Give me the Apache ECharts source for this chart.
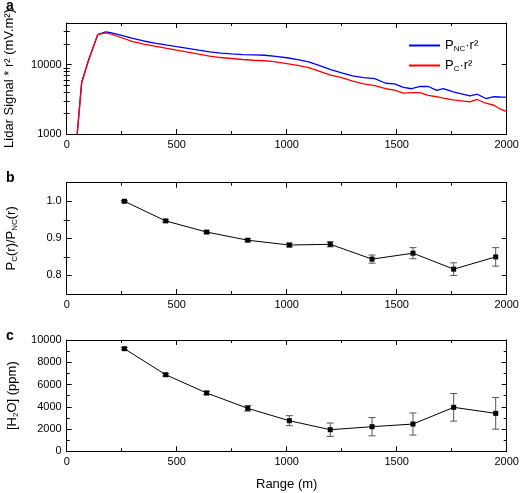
<!DOCTYPE html>
<html><head><meta charset="utf-8">
<script src="https://cdn.jsdelivr.net/npm/echarts@6/dist/echarts.min.js"></script>
<style>html,body{margin:0;padding:0;background:#fff}#c{width:520px;height:493px}</style>
</head><body><div id="c"></div>
<script>
// ---------- data ----------
const rangeA = [45, 68, 98, 141, 177, 200, 250, 300, 350, 400, 450, 500, 550, 600, 650, 700, 750, 800, 850, 900, 950, 1000, 1050, 1100, 1150, 1200, 1250, 1300, 1350, 1400, 1450, 1490, 1530, 1568, 1606, 1644, 1682, 1712, 1757, 1795, 1833, 1866, 1905, 1942, 1970, 2000];
const signalNC = [800, 5600, 11300, 27200, 29800, 29000, 26500, 24000, 22000, 20500, 19300, 18200, 17200, 16200, 15300, 14700, 14300, 14000, 13900, 13700, 13200, 12600, 11800, 11000, 9700, 8500, 7600, 6900, 6500, 6300, 5400, 5300, 4700, 4500, 4850, 4850, 4250, 4500, 4050, 3800, 3550, 3750, 3250, 3450, 3420, 3400];
const signalC = [800, 5430, 11200, 27200, 28800, 27800, 24500, 21500, 19800, 18500, 17300, 16200, 15200, 14200, 13300, 12700, 12300, 11900, 11600, 11400, 11000, 10400, 9800, 9100, 8000, 7100, 6500, 5800, 5300, 5000, 4500, 4300, 3900, 3950, 3950, 3600, 3450, 3300, 3100, 3000, 2900, 3150, 2780, 2600, 2300, 2100];

const rangeB = [262, 450, 636, 823, 1012, 1198, 1388, 1574, 1759, 1950];
const ratio = [1.000, 0.947, 0.917, 0.895, 0.882, 0.884, 0.844, 0.860, 0.817, 0.850];
const ratioErr = [0.002, 0.003, 0.003, 0.004, 0.005, 0.007, 0.011, 0.015, 0.017, 0.025];
const h2o = [9220, 6880, 5240, 3860, 2750, 1940, 2210, 2450, 3950, 3410];
const h2oErr = [100, 120, 150, 250, 450, 600, 820, 990, 1240, 1420];

const logMajor = [1000, 10000];
const logMinor = [2000, 3000, 4000, 5000, 6000, 7000, 8000, 9000, 20000, 30000];
const ratioMajor = [0.8, 0.9, 1.0];
const ratioMinor = [0.85, 0.95];

// ---------- helpers ----------
const FONT = 'Liberation Sans, Arial, sans-serif';
const pairs = (xs, ys) => xs.map((x, i) => [x, ys[i]]);
const errs = (xs, ys, es) => xs.map((x, i) => [x, ys[i] - es[i], ys[i] + es[i]]);
const plain = v => String(v);

function xAx(grid, pos, showLabel, extra) {
  return Object.assign({
    type: 'value', gridIndex: grid, position: pos, min: 0, max: 2000, interval: 500,
    axisLine: { show: true, onZero: false, lineStyle: { color: '#000', width: 1 } },
    axisTick: { show: true, inside: true, length: 5, lineStyle: { color: '#000', width: 1 } },
    minorTick: { show: true, splitNumber: 2, length: 3, lineStyle: { color: '#000', width: 1 } },
    splitLine: { show: false }, minorSplitLine: { show: false },
    axisLabel: { show: showLabel, color: '#000', fontSize: 11, margin: 5, fontFamily: FONT, formatter: plain,
      hideOverlap: false }
  }, extra || {});
}
function yAx(o) {
  return Object.assign({
    axisLine: { show: true, onZero: false, lineStyle: { color: '#000', width: 1 } },
    splitLine: { show: false },
    axisLabel: { show: false, color: '#000', fontSize: 11, margin: 5, fontFamily: FONT },
  }, o);
}
const tick = (len, vals) => ({ show: true, inside: true, length: len, lineStyle: { color: '#000', width: 1 }, customValues: vals });
const nameStyle = {
  color: '#000', fontSize: 13, fontFamily: FONT,
  rich: {
    n: { fontSize: 13, fontFamily: FONT, color: '#000' },
    s: { fontSize: 8, fontFamily: FONT, color: '#000', padding: [0, 0, -7, 0] }
  }
};

function errRender(params, api) {
  const x = api.value(0), lo = api.value(1), hi = api.value(2);
  const a = api.coord([x, lo]), b = api.coord([x, hi]);
  const w = 3.5;
  const st = { stroke: '#555', lineWidth: 1, fill: null };
  return { type: 'group', children: [
    { type: 'line', shape: { x1: a[0], y1: a[1], x2: b[0], y2: b[1] }, style: st },
    { type: 'line', shape: { x1: a[0] - w, y1: a[1], x2: a[0] + w, y2: a[1] }, style: st },
    { type: 'line', shape: { x1: b[0] - w, y1: b[1], x2: b[0] + w, y2: b[1] }, style: st }
  ]};
}

const chart = echarts.init(document.getElementById('c'), null, { renderer: 'canvas' });
const legendNames = { 'PNC': '{n|P}{s|NC}{n|·r²}', 'PC': '{n|P}{s|C}{n|·r²}' };
const gridBase = { left: 66.7, right: 13.3, containLabel: false, outerBoundsMode: 'none' };

chart.setOption({
  animation: false,
  backgroundColor: '#fff',
  textStyle: { fontFamily: FONT },
  grid: [
    Object.assign({ top: 23, height: 111 }, gridBase),
    Object.assign({ top: 182.7, height: 111.3 }, gridBase),
    Object.assign({ top: 340, height: 111.3 }, gridBase)
  ],
  graphic: [
    { type: 'text', left: 6, top: -1, style: { text: 'a', font: 'bold 14px ' + FONT, fill: '#000' } },
    { type: 'text', left: 6, top: 171, style: { text: 'b', font: 'bold 14px ' + FONT, fill: '#000' } },
    { type: 'text', left: 6, top: 329, style: { text: 'c', font: 'bold 14px ' + FONT, fill: '#000' } }
  ],
  legend: {
    orient: 'vertical', left: 404, top: 34, itemWidth: 31, itemHeight: 2, itemGap: 6, icon: 'rect',
    data: ['PNC', 'PC'],
    formatter: n => legendNames[n],
    textStyle: { color: '#000', fontSize: 13, fontFamily: FONT, rich: nameStyle.rich }
  },
  xAxis: [
    xAx(0, 'bottom', true), xAx(0, 'top', false),
    xAx(1, 'bottom', true), xAx(1, 'top', false),
    xAx(2, 'bottom', true, { name: 'Range (m)', nameLocation: 'middle', nameGap: 27,
      nameTextStyle: { color: '#000', fontSize: 13, fontFamily: FONT } }),
    xAx(2, 'top', false)
  ],
  yAxis: [
    // panel a (log)
    yAx({ type: 'log', logBase: 10, gridIndex: 0, position: 'left', min: 1000, max: 40000,
      axisTick: tick(5, logMajor),
      axisLabel: { show: true, color: '#000', fontSize: 11, margin: 5, fontFamily: FONT, customValues: logMajor, formatter: plain },
      name: 'Lidar Signal * r² (mV.m²)', nameLocation: 'middle', nameGap: 51, nameRotate: 90,
      nameTextStyle: nameStyle }),
    yAx({ type: 'log', logBase: 10, gridIndex: 0, position: 'left', min: 1000, max: 40000,
      axisLine: { show: false }, axisTick: tick(3, logMinor) }),
    yAx({ type: 'log', logBase: 10, gridIndex: 0, position: 'right', min: 1000, max: 40000,
      axisTick: tick(5, logMajor) }),
    yAx({ type: 'log', logBase: 10, gridIndex: 0, position: 'right', min: 1000, max: 40000,
      axisLine: { show: false }, axisTick: tick(3, logMinor) }),
    // panel b
    yAx({ type: 'value', gridIndex: 1, position: 'left', min: 0.75, max: 1.05,
      axisTick: tick(5, ratioMajor),
      axisLabel: { show: true, color: '#000', fontSize: 11, margin: 5, fontFamily: FONT, customValues: ratioMajor,
        formatter: v => v.toFixed(1) },
      name: '{n|P}{s|C}{n|(r)/P}{s|NC}{n|(r)}', nameLocation: 'middle', nameGap: 49, nameRotate: 90,
      nameTextStyle: nameStyle }),
    yAx({ type: 'value', gridIndex: 1, position: 'left', min: 0.75, max: 1.05,
      axisLine: { show: false }, axisTick: tick(3, ratioMinor) }),
    yAx({ type: 'value', gridIndex: 1, position: 'right', min: 0.75, max: 1.05,
      axisTick: tick(5, ratioMajor) }),
    yAx({ type: 'value', gridIndex: 1, position: 'right', min: 0.75, max: 1.05,
      axisLine: { show: false }, axisTick: tick(3, ratioMinor) }),
    // panel c
    yAx({ type: 'value', gridIndex: 2, position: 'left', min: 0, max: 10000, interval: 2000,
      axisTick: { show: true, inside: true, length: 5, lineStyle: { color: '#000', width: 1 } },
      minorTick: { show: true, splitNumber: 2, length: 3, lineStyle: { color: '#000', width: 1 } },
      axisLabel: { show: true, color: '#000', fontSize: 11, margin: 5, fontFamily: FONT, formatter: plain },
      name: '{n|[H}{s|2}{n|O] (ppm)}', nameLocation: 'middle', nameGap: 47, nameRotate: 90,
      nameTextStyle: nameStyle }),
    yAx({ type: 'value', gridIndex: 2, position: 'right', min: 0, max: 10000, interval: 2000,
      axisTick: { show: true, inside: true, length: 5, lineStyle: { color: '#000', width: 1 } },
      minorTick: { show: true, splitNumber: 2, length: 3, lineStyle: { color: '#000', width: 1 } } })
  ],
  series: [
    { name: 'PNC', type: 'line', xAxisIndex: 0, yAxisIndex: 0, data: pairs(rangeA, signalNC),
      symbol: 'none', lineStyle: { color: '#0000ff', width: 1.3 }, itemStyle: { color: '#0000ff' }, clip: true },
    { name: 'PC', type: 'line', xAxisIndex: 0, yAxisIndex: 0, data: pairs(rangeA, signalC),
      symbol: 'none', lineStyle: { color: '#ff0000', width: 1.3 }, itemStyle: { color: '#ff0000' }, clip: true },
    { type: 'custom', xAxisIndex: 2, yAxisIndex: 4, renderItem: errRender,
      data: errs(rangeB, ratio, ratioErr), encode: { x: 0, y: [1, 2] }, z: 1 },
    { type: 'line', xAxisIndex: 2, yAxisIndex: 4, data: pairs(rangeB, ratio),
      symbol: 'rect', symbolSize: 5, lineStyle: { color: '#000', width: 1 }, itemStyle: { color: '#000' }, z: 2 },
    { type: 'custom', xAxisIndex: 4, yAxisIndex: 8, renderItem: errRender,
      data: errs(rangeB, h2o, h2oErr), encode: { x: 0, y: [1, 2] }, z: 1 },
    { type: 'line', xAxisIndex: 4, yAxisIndex: 8, data: pairs(rangeB, h2o),
      symbol: 'rect', symbolSize: 5, lineStyle: { color: '#000', width: 1 }, itemStyle: { color: '#000' }, z: 2 }
  ]
});
</script>
</body></html>
